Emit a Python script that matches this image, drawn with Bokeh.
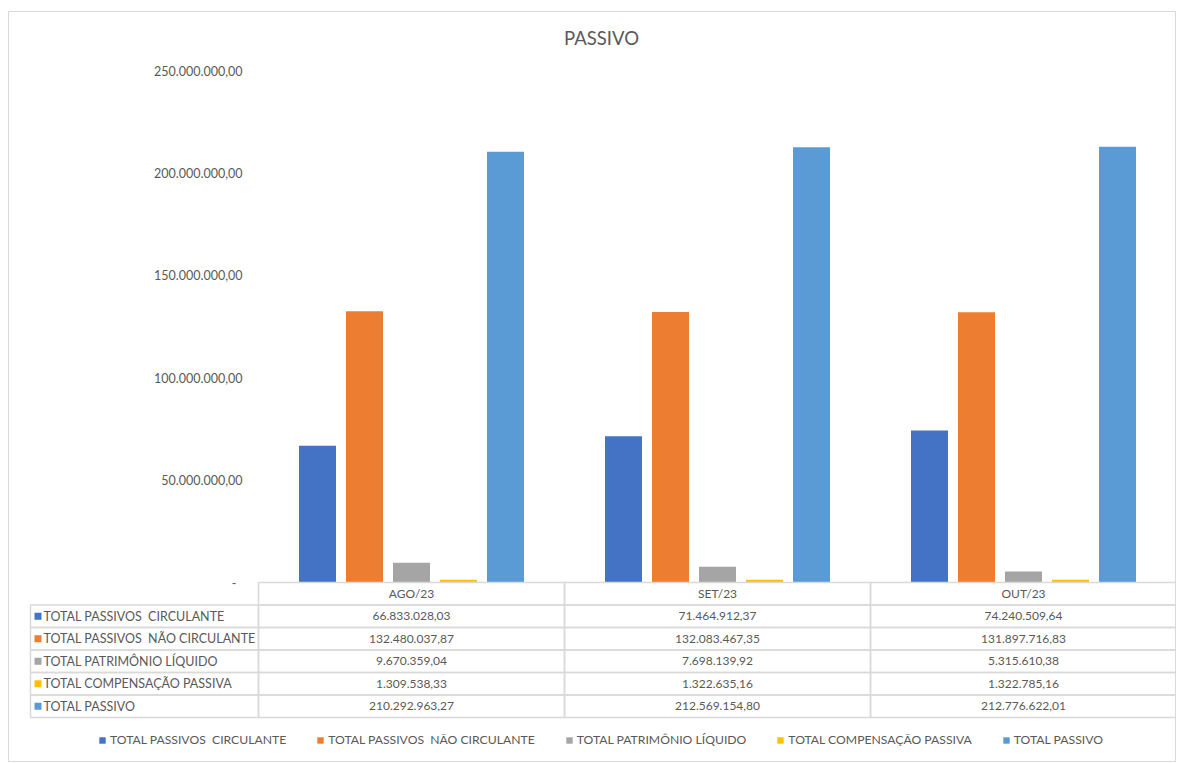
from bokeh.plotting import figure
from bokeh.models import Range1d, Legend, LegendItem, ColumnDataSource, Label
from bokeh.transform import dodge
from bokeh.core.properties import value
from bokeh.embed import file_html
from bokeh.resources import INLINE

# ---------------- data ----------------
categories = ["AGO/23", "SET/23", "OUT/23"]
series_names = [
    "TOTAL PASSIVOS  CIRCULANTE",
    "TOTAL PASSIVOS  NÃO CIRCULANTE",
    "TOTAL PATRIMÔNIO LÍQUIDO",
    "TOTAL COMPENSAÇÃO PASSIVA",
    "TOTAL PASSIVO",
]
circulante = [66833028.03, 71464912.37, 74240509.64]
nao_circulante = [132480037.87, 132083467.35, 131897716.83]
patrimonio = [9670359.04, 7698139.92, 5315610.38]
compensacao = [1309538.33, 1322635.16, 1322785.16]
total = [210292963.27, 212569154.80, 212776622.01]
y_ticks = [0, 50000000, 100000000, 150000000, 200000000, 250000000]
title_text = "PASSIVO"

series_values = [circulante, nao_circulante, patrimonio, compensacao, total]
colors = ["#4472C4", "#ED7D31", "#A5A5A5", "#FFC000", "#5B9BD5"]
TEXT = "#595959"
GRID = "#D9D9D9"
FONT = value("Lato")


def br(v):
    s = f"{v:,.2f}"
    return s.replace(",", "X").replace(".", ",").replace("X", ".")


# ---------------- layout (pixels) ----------------
LEFT, TOP, BOTTOM = 8, 11, 1
FW, FH = 1168, 750           # frame size
W, H = LEFT + FW, TOP + FH + BOTTOM
UNIT = 306.0                 # px per category
CAT0 = 250.0                 # px from frame left to first category column
ZERO = 571.0                 # px from frame top to value 0
S = 250000000 / 512.0        # value per px
ROW = 22.5                   # table row height px
LABCOL = -228.0 / UNIT       # left edge of table label column (data x)

x_range = Range1d(-CAT0 / UNIT, (FW - CAT0) / UNIT)
y_range = Range1d(-(FH - ZERO) * S, ZERO * S)

p = figure(width=W, height=H, x_range=x_range, y_range=y_range,
           output_backend="svg", toolbar_location=None,
           x_axis_location=None, y_axis_location=None,
           min_border=0, min_border_top=TOP, min_border_left=LEFT,
           min_border_bottom=BOTTOM)
p.extra_y_ranges = {"tbl": Range1d(-(FH - ZERO) / ROW, ZERO / ROW)}
p.grid.visible = False
p.outline_line_color = GRID
p.outline_line_width = 1
p.background_fill_color = "white"
p.border_fill_color = "white"

# ---------------- bars ----------------
cat_x = [i + 0.5 for i in range(len(categories))]
bar_w = 37.0 / UNIT
step = 47.0 / UNIT
renderers = []
for k, (name, vals, col) in enumerate(zip(series_names, series_values, colors)):
    src = ColumnDataSource(dict(x=cat_x, top=vals))
    r = p.vbar(x=dodge("x", (k - 2) * step), top="top", bottom=0, width=bar_w,
               source=src, fill_color=col, line_color=None)
    renderers.append(r)

# ---------------- y tick labels ----------------
tick_src = ColumnDataSource(dict(
    x=[-16.0 / UNIT if t != 0 else -22.0 / UNIT for t in y_ticks],
    y=y_ticks,
    t=[br(t) if t != 0 else "-" for t in y_ticks]))
p.text(x="x", y="y", text="t", source=tick_src, text_align="right",
       text_baseline="middle", text_font=FONT, text_font_size="12.5px",
       text_color=TEXT)

# ---------------- data table ----------------
ncat = len(categories)
p.quad(left=list(range(ncat)), right=[i + 1 for i in range(ncat)],
       top=[0] * ncat, bottom=[-1] * ncat, y_range_name="tbl",
       fill_color=None, line_color=GRID, line_width=1.5)
p.text(x=cat_x, y=[-0.5] * ncat, text=categories, y_range_name="tbl",
       text_align="center", text_baseline="middle", text_font=FONT,
       text_font_size="12px", text_color=TEXT)

cl, cr, ct, cb, tx, ty, tt = [], [], [], [], [], [], []
for k, vals in enumerate(series_values):
    for i, v in enumerate(vals):
        cl.append(i); cr.append(i + 1)
        ct.append(-(k + 1)); cb.append(-(k + 2))
        tx.append(i + 0.5); ty.append(-(k + 1.5)); tt.append(br(v))
p.quad(left=cl, right=cr, top=ct, bottom=cb, y_range_name="tbl",
       fill_color=None, line_color=GRID, line_width=1.5)
p.text(x=tx, y=ty, text=tt, y_range_name="tbl", text_align="center",
       text_baseline="middle", text_font=FONT, text_font_size="12px",
       text_color=TEXT)

ns = len(series_names)
shown_names = [n.replace("  ", " \u00a0") for n in series_names]
p.quad(left=[LABCOL] * ns, right=[0] * ns,
       top=[-(k + 1) for k in range(ns)], bottom=[-(k + 2) for k in range(ns)],
       y_range_name="tbl", fill_color=None, line_color=GRID, line_width=1.5)
p.scatter(x=[LABCOL + 7.5 / UNIT] * ns, y=[-(k + 1.5) for k in range(ns)],
          marker="square", size=7, fill_color=colors, line_color=None,
          y_range_name="tbl")
p.text(x=[LABCOL + 13.0 / UNIT] * ns, y=[-(k + 1.5) for k in range(ns)],
       text=shown_names, y_range_name="tbl", text_align="left",
       text_baseline="middle", text_font=FONT, text_font_size="12.5px",
       text_color=TEXT)

# ---------------- title ----------------
p.add_layout(Label(x=(601 - 258) / UNIT, y=(ZERO - 26) * S, text=title_text,
                   text_align="center", text_baseline="middle",
                   text_font="Lato", text_font_size="18.5px", text_color=TEXT))

# ---------------- legend ----------------
legend = Legend(items=[LegendItem(label=n, renderers=[r])
                       for n, r in zip(series_names, renderers)],
                orientation="horizontal", location=(90, 14),
                glyph_width=8, glyph_height=8, label_standoff=4, spacing=30,
                label_text_font="Lato", label_text_font_size="12.2px",
                label_text_color=TEXT, border_line_color=None,
                background_fill_alpha=0, margin=0, padding=2,
                label_height=14)
p.add_layout(legend)

open("out.html", "w").write(file_html(p, INLINE))
